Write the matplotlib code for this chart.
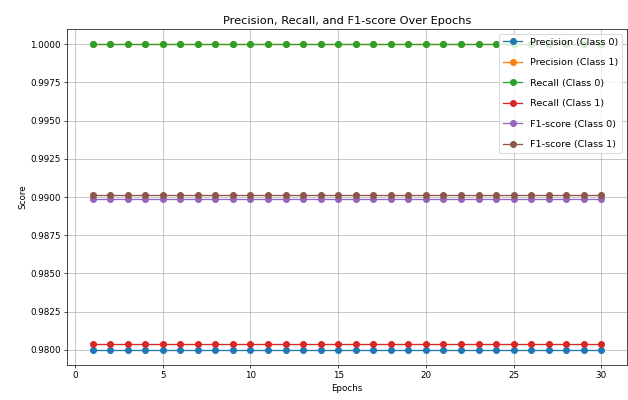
import matplotlib
matplotlib.use("Agg")
import matplotlib.pyplot as plt

# Per-epoch metrics for both classes
epochs = list(range(1, 31))

precision_0 = [0.9800] * 30
precision_1 = [1.0000] * 30
recall_0 = [1.0000] * 30
recall_1 = [0.9804] * 30
f1_0 = [0.9899] * 30
f1_1 = [0.9901] * 30

fig = plt.figure(figsize=(10, 6.37), dpi=62.8)

plt.plot(epochs, precision_0, marker='o', markersize=7, label='Precision (Class 0)')
plt.plot(epochs, precision_1, marker='o', markersize=7, label='Precision (Class 1)')
plt.plot(epochs, recall_0, marker='o', markersize=7, label='Recall (Class 0)')
plt.plot(epochs, recall_1, marker='o', markersize=7, label='Recall (Class 1)')
plt.plot(epochs, f1_0, marker='o', markersize=7, label='F1-score (Class 0)')
plt.plot(epochs, f1_1, marker='o', markersize=7, label='F1-score (Class 1)')

plt.title("Precision, Recall, and F1-score Over Epochs", fontsize=13)
plt.xlabel("Epochs")
plt.ylabel("Score")
plt.legend(loc='upper right', fontsize=11, labelspacing=1.2)
plt.grid(True)

plt.subplots_adjust(left=0.107, right=0.998, bottom=0.0875, top=0.9275)

plt.savefig("out.png", dpi=62.8)
